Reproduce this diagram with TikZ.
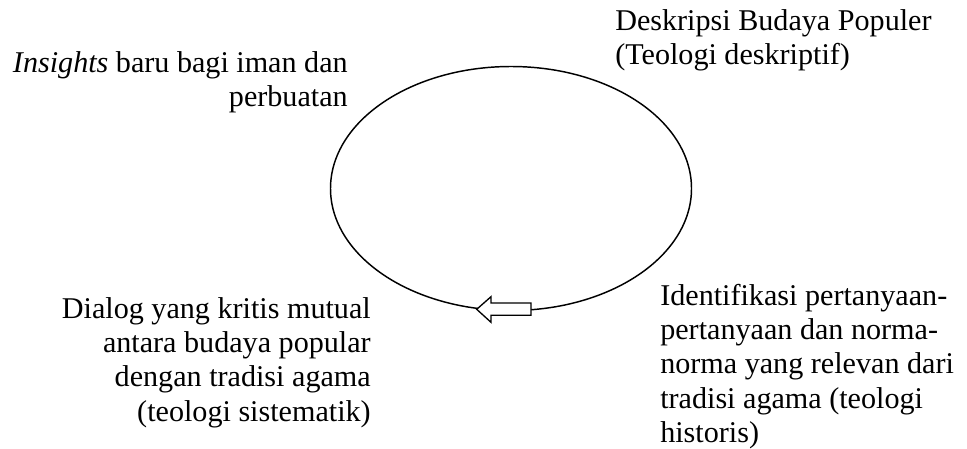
\documentclass[tikz,border=0pt]{standalone}
\usepackage{fontspec}
\setmainfont{Liberation Serif}
\usetikzlibrary{shapes.geometric}
\tikzset{
  lbl/.style={inner sep=0pt, font=\fontsize{22.6}{25.7}\selectfont},
  lblr/.style={lbl, align=right, anchor=base east},
  lbll/.style={lbl, align=left, anchor=base west},
  cyc/.style={draw, ellipse, line width=1.1pt, inner sep=0pt, minimum width=270.75pt, minimum height=183pt},
  blockarrow/.style={draw, fill=white, line width=1pt, line join=miter}
}
\begin{document}
\begin{tikzpicture}[x=0.75pt,y=-0.75pt]
\useasboundingbox (0,0) rectangle (967,449);
\node[cyc] (cycle) at (511,188.5) {};
\draw[blockarrow] (531,303) -- (491,303) -- (491,296.7) -- (476.7,309.3) -- (491,322.3) -- (491,315.3) -- (531,315.3) -- cycle;
% anchors are at the baseline of the last line
\node[lblr] (insights) at (348,106.8) {\textit{Insights} baru bagi iman dan\\perbuatan};
\node[lbll] (deskripsi) at (615,65) {Deskripsi Budaya Populer\\(Teologi deskriptif)};
\node[lblr] (dialog) at (371,421) {Dialog yang kritis mutual\\antara budaya popular\\dengan tradisi agama\\(teologi sistematik)};
\node[lbll] (identifikasi) at (660,442.5) {Identifikasi pertanyaan-\\pertanyaan dan norma-\\norma yang relevan dari\\tradisi agama (teologi\\historis)};
\end{tikzpicture}
\end{document}
